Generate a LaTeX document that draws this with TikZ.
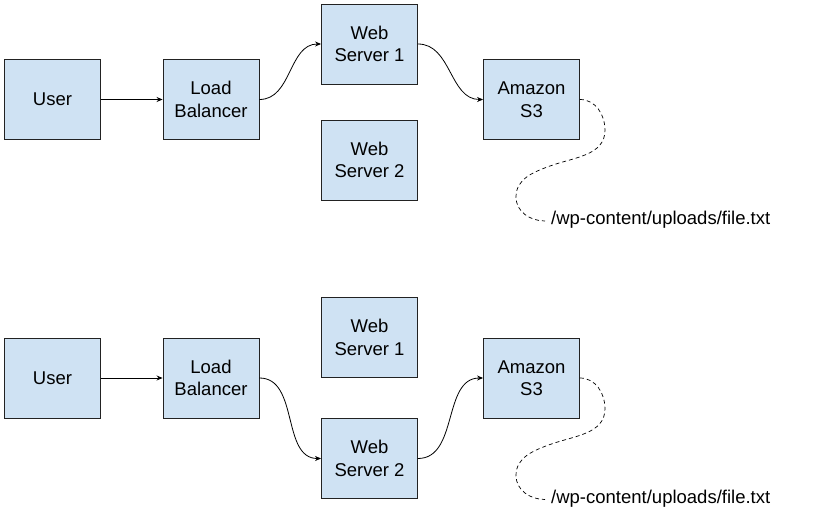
\documentclass[tikz,border=0pt]{standalone}
\usepackage{fontspec}
\setmainfont{Liberation Sans}
\usetikzlibrary{arrows.meta}
\definecolor{boxfill}{HTML}{CFE2F3}
\definecolor{boxline}{HTML}{222222}
\tikzset{
  box/.style={draw=boxline, fill=boxfill, line width=0.9pt, minimum width=96pt, minimum height=80pt,
    inner sep=0pt, align=center, font=\fontsize{18.5}{22.5}\selectfont},
  conn/.style={draw=black, line width=0.8pt, -{Stealth[length=6pt,width=5pt]}},
  dashconn/.style={draw=black, line width=0.7pt, dash pattern=on 4pt off 3pt},
  lbl/.style={anchor=base west, inner sep=0pt, font=\fontsize{18.5}{22.5}\selectfont}
}
\begin{document}
\begin{tikzpicture}[x=1pt,y=-1pt]
\useasboundingbox (0,0) rectangle (839,524);
% top diagram
\node[box] (u1) at (52.5,99.5) {User};
\node[box] (lb1) at (211,99.5) {Load\\Balancer};
\node[box] (wa1) at (369.5,44) {Web\\Server 1};
\node[box] (wb1) at (369.5,160) {Web\\Server 2};
\node[box] (s31) at (531.5,99.5) {Amazon\\S3};
\node[lbl] (f1) at (551,225) {/wp-content/uploads/file.txt};
\draw[conn] (u1.east) -- (lb1.west);
\draw[conn] (lb1.east) to[out=0,in=180] (wa1.west);
\draw[conn] (wa1.east) to[out=0,in=180] (s31.west);
\coordinate (e1) at (545,221);
\draw[dashconn] (s31.east) to[out=0,in=90] (605,130) to[out=-90,in=20] (550,166) to[out=200,in=90] (516,197) to[out=-90,in=180] (e1);
% bottom diagram
\node[box] (u2) at (52.5,378) {User};
\node[box] (lb2) at (211,378) {Load\\Balancer};
\node[box] (wa2) at (369.5,337.5) {Web\\Server 1};
\node[box] (wb2) at (369.5,458.5) {Web\\Server 2};
\node[box] (s32) at (531.5,378) {Amazon\\S3};
\node[lbl] (f2) at (551,503) {/wp-content/uploads/file.txt};
\draw[conn] (u2.east) -- (lb2.west);
\draw[conn] (lb2.east) to[out=0,in=180] (wb2.west);
\draw[conn] (wb2.east) to[out=0,in=180] (s32.west);
\coordinate (e2) at (545,499.5);
\draw[dashconn] (s32.east) to[out=0,in=90] (605,408.5) to[out=-90,in=20] (550,444.5) to[out=200,in=90] (516,475.5) to[out=-90,in=180] (e2);
\end{tikzpicture}
\end{document}
